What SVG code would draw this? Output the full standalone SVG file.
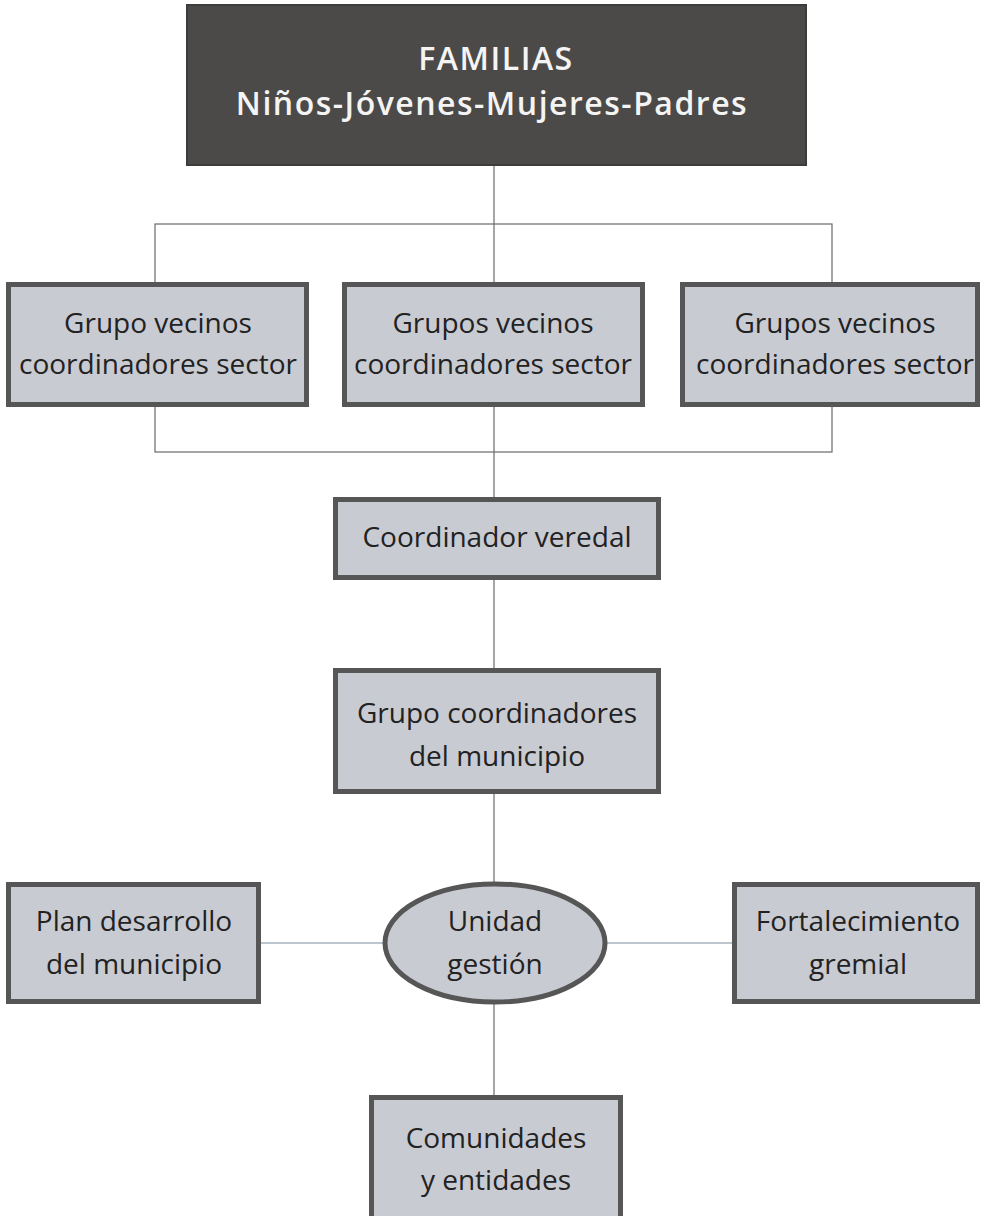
<svg xmlns="http://www.w3.org/2000/svg" width="982" height="1216" viewBox="0 0 982 1216">
<style>
.box{fill:#c9cbd2;stroke:#565656;stroke-width:5}
.t{font-family:"Open Sans","Liberation Sans",sans-serif;font-size:28px;fill:#222;text-anchor:middle}
.title{font-family:"Open Sans","Liberation Sans",sans-serif;font-size:32px;font-weight:600;fill:#f4f4f4;text-anchor:middle;letter-spacing:1.5px}
.ln{stroke:#6a6a6a;stroke-width:1.2;fill:none}
.hl{stroke:#7d8da0;stroke-width:1.2;fill:none}
</style>
<rect width="982" height="1216" fill="#ffffff"/>
<g id="connectors">
<rect x="155" y="224" width="677" height="228" class="ln" stroke="#7a7a7a"/>
<line x1="494" y1="165" x2="494" y2="1096" class="ln"/>
<line x1="260" y1="943" x2="384" y2="943" class="hl"/>
<line x1="606" y1="943" x2="733" y2="943" class="hl"/>
</g>
<g id="familias">
<rect x="187" y="5" width="619" height="160" fill="#4b4a48" stroke="#3c3c3a" stroke-width="2"/>
<text class="title" x="496" y="70">FAMILIAS</text>
<text class="title" x="492" y="115">Niños-Jóvenes-Mujeres-Padres</text>
</g>
<g id="grupo1">
<rect class="box" x="8.5" y="284.5" width="298" height="120"/>
<text class="t" x="158" y="333">Grupo vecinos</text>
<text class="t" x="158" y="374">coordinadores sector</text>
</g>
<g id="grupo2">
<rect class="box" x="344.5" y="284.5" width="298" height="120"/>
<text class="t" x="493" y="333">Grupos vecinos</text>
<text class="t" x="493" y="374">coordinadores sector</text>
</g>
<g id="grupo3">
<rect class="box" x="682.5" y="284.5" width="295" height="120"/>
<text class="t" x="835" y="333">Grupos vecinos</text>
<text class="t" x="835" y="374">coordinadores sector</text>
</g>
<g id="coordinador">
<rect class="box" x="335.5" y="499.5" width="323" height="78"/>
<text class="t" x="497" y="547">Coordinador veredal</text>
</g>
<g id="grupocoord">
<rect class="box" x="335.5" y="670.5" width="323" height="121"/>
<text class="t" x="497" y="723">Grupo coordinadores</text>
<text class="t" x="497" y="766">del municipio</text>
</g>
<g id="plan">
<rect class="box" x="8.5" y="884.5" width="250" height="117"/>
<text class="t" x="134" y="931">Plan desarrollo</text>
<text class="t" x="134" y="974">del municipio</text>
</g>
<g id="unidad">
<ellipse class="box" cx="495" cy="943" rx="110" ry="59"/>
<text class="t" x="495" y="931">Unidad</text>
<text class="t" x="495" y="974">gestión</text>
</g>
<g id="fortalecimiento">
<rect class="box" x="734.5" y="884.5" width="243" height="117"/>
<text class="t" x="858" y="931">Fortalecimiento</text>
<text class="t" x="858" y="974">gremial</text>
</g>
<g id="comunidades">
<rect class="box" x="371.5" y="1097.5" width="249" height="125"/>
<text class="t" x="496" y="1148">Comunidades</text>
<text class="t" x="496" y="1190">y entidades</text>
</g>
</svg>
